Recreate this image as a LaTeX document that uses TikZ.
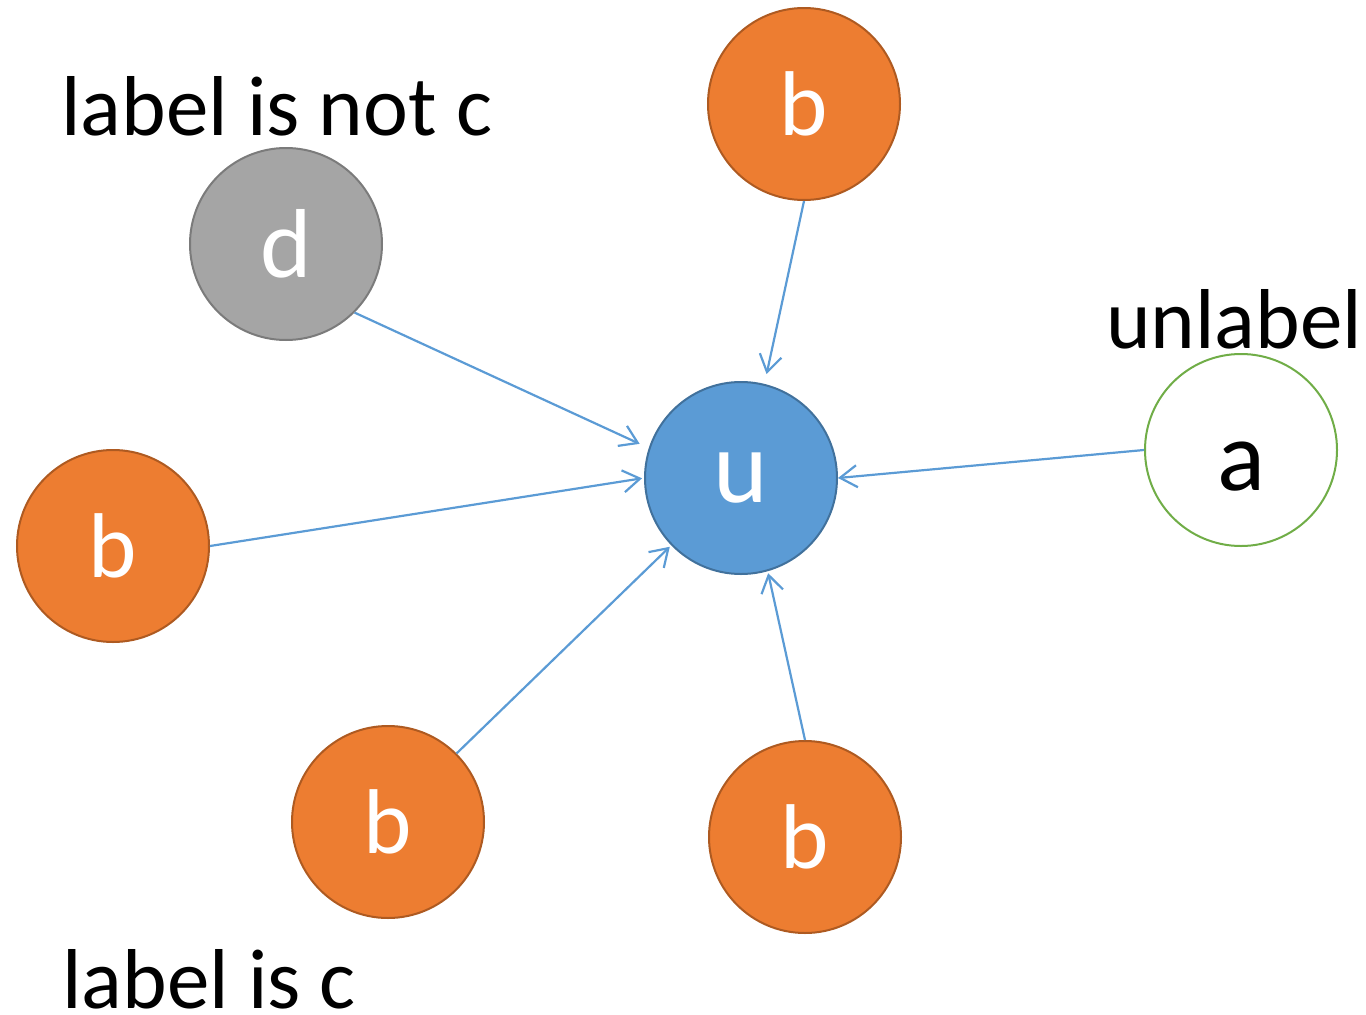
\documentclass[tikz,border=0pt]{standalone}
\usepackage{fontspec}
\setmainfont{Carlito}
\usetikzlibrary{arrows.meta}
\definecolor{vorange}{HTML}{ED7D31}
\definecolor{vorangeline}{HTML}{AE5A21}
\definecolor{vblue}{HTML}{5B9BD5}
\definecolor{vblueline}{HTML}{41719C}
\definecolor{vgray}{HTML}{A5A5A5}
\definecolor{vgrayline}{HTML}{7B7B7B}
\definecolor{vgreen}{HTML}{70AD47}
\begin{document}
\begin{tikzpicture}[x=1pt, y=1pt,
    vtx/.style={circle, minimum size=192pt, inner sep=0pt, line width=2pt},
    bvtx/.style={vtx, fill=vorange, draw=vorangeline, text=white, font=\fontsize{92}{92}\selectfont},
    link/.style={draw=vblue, line width=2.2pt, -{Straight Barb[length=17pt,width=22pt]}},
    caption/.style={anchor=base west, inner sep=0pt, font=\fontsize{85}{85}\selectfont}]
    \useasboundingbox (0,0) rectangle (1366,-1015);
    % vertices
    \node[vtx, fill=vblue, draw=vblueline, text=white, font=\fontsize{104}{104}\selectfont] (u) at (741,-478) {u};
    \node[vtx, fill=vgray, draw=vgrayline, text=white, font=\fontsize{98}{98}\selectfont] (d) at (286,-244) {d};
    \node[vtx, fill=white, draw=vgreen, text=black, text height=80pt, text depth=0pt, font=\fontsize{100}{100}\selectfont] (a) at (1241,-450) {a};
    \node[bvtx] (btop) at (804,-104) {b};
    \node[bvtx] (bleft) at (113,-546) {b};
    \node[bvtx] (blow) at (388,-822) {b};
    \node[bvtx] (bbot) at (805,-837) {b};
    % edges into u
    \draw[link, shorten >=10pt] (d.-45) -- (u.162);
    \draw[link, shorten >=10pt] (btop.south) -- (u.76);
    \draw[link, shorten >=2pt] (bleft.east) -- (u.180);
    \draw[link, shorten >=2pt] (blow.45) -- (u.224);
    \draw[link, shorten >=2pt] (bbot.north) -- (u.286);
    \draw[link] (a.west) -- (u.0);
    % captions
    \node[caption] (notc) at (61,-135) {label is not c};
    \node[caption] (unl) at (1106,-348) {unlabel};
    \node[caption] (isc) at (62,-1008) {label is c};
\end{tikzpicture}
\end{document}
